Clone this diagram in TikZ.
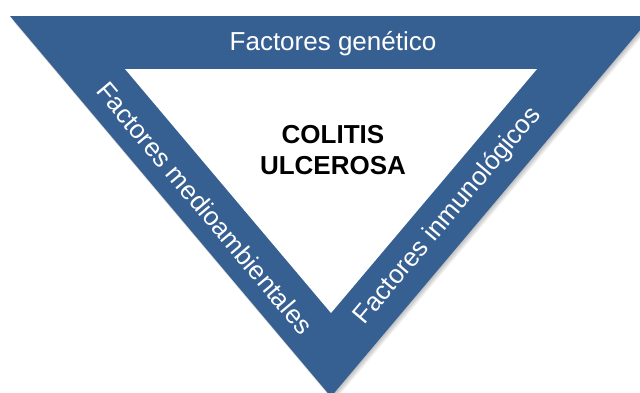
\documentclass[tikz,border=0pt]{standalone}
\usepackage{fontspec}
\setmainfont{Liberation Sans}
\definecolor{bandblue}{RGB}{55,96,146}
\begin{document}
\begin{tikzpicture}[x=1pt,y=-1pt,
  bandtext/.style={text=white,font=\fontsize{26}{30}\selectfont,inner sep=0pt},
  titletext/.style={text=black,font=\bfseries\fontsize{26}{31.5}\selectfont,align=center,inner sep=0pt},
  shadowlayer/.style={fill=black,opacity=0.05}]
\clip (0,0) rectangle (640,392);
\fill[white] (0,0) rectangle (640,392);
\coordinate (OL) at (10,16);
\coordinate (OR) at (652,16);
\coordinate (OB) at (331,396.7);
\coordinate (IL) at (125,69);
\coordinate (IR) at (537,69);
\coordinate (IB) at (331,313);
% soft shadow
\foreach \d in {1,2,3,4,5}{
  \fill[shadowlayer] ([shift={(\d*0.6,\d)}]OL) -- ([shift={(\d*0.6,\d)}]OR) -- ([shift={(\d*0.6,\d)}]OB) -- cycle;
}
\fill[bandblue] (OL) -- (OR) -- (OB) -- cycle;
\fill[white] (IL) -- (IR) -- (IB) -- cycle;
\node[bandtext,anchor=base] (gen) at (333,50) {Factores genético};
\node[bandtext,rotate=-49.9] (amb) at (205,208) {Factores medioambientales};
\node[bandtext,rotate=49.9] (inm) at (448,216) {Factores inmunológicos};
\node[titletext] (title) at (333,150) {COLITIS\\ULCEROSA};
\end{tikzpicture}
\end{document}
